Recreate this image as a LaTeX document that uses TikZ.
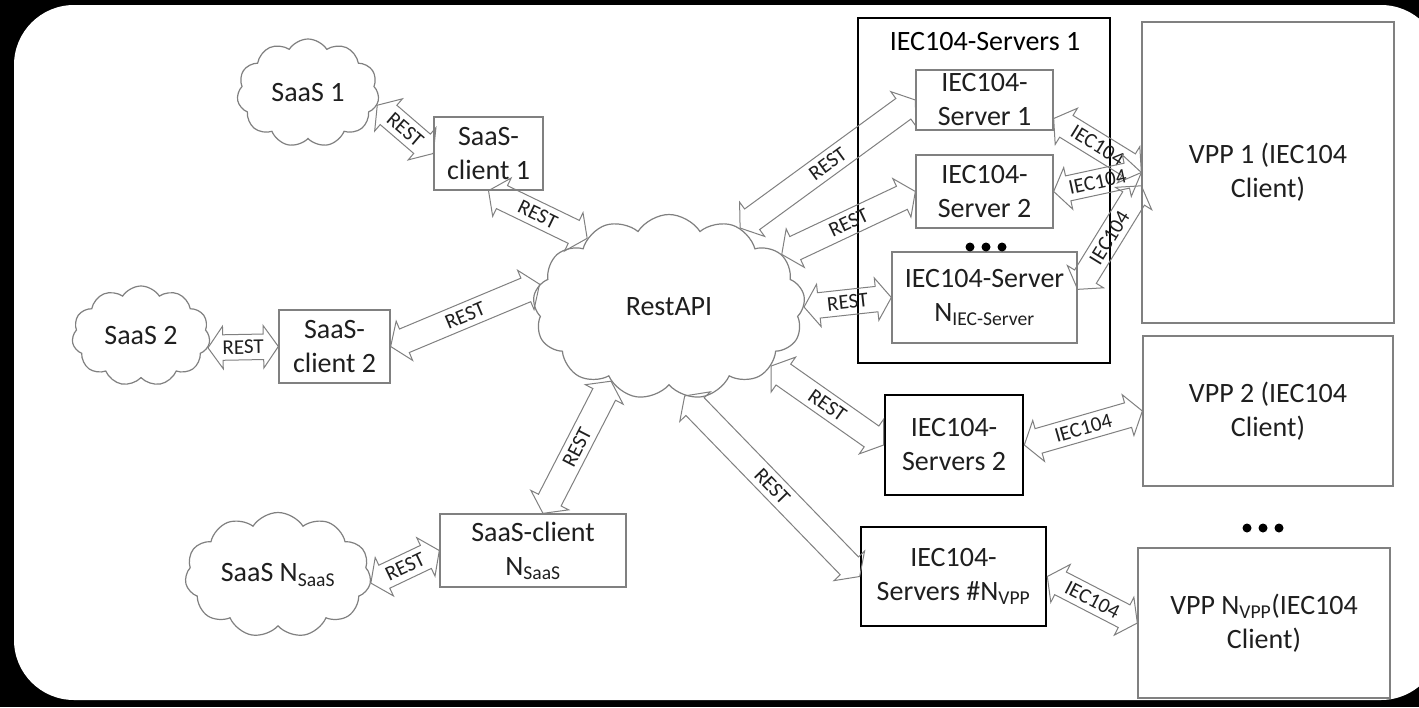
\documentclass[tikz,border=0pt]{standalone}
\usepackage{fontspec}
\setmainfont{Carlito}
\usetikzlibrary{calc, positioning, shapes.symbols, shapes.arrows}
\tikzstyle{box}=[draw=gray, line width=1.3pt, align=center, text=black!88, inner sep=0pt]
\tikzstyle{groupbox}=[draw=black, line width=2.6pt, align=center, text=black!88, inner sep=0pt]
\tikzstyle{saas}=[cloud, cloud puffs=11, cloud puff arc=115, cloud ignores aspect, draw=gray, line width=1.2pt, text=black!88, inner sep=0pt]
\tikzstyle{link}=[double arrow, draw=gray, line width=1pt, double arrow head extend=8.5pt, double arrow tip angle=110, inner xsep=1pt, inner ysep=5.5pt, text height=13.5pt, text depth=0pt, font=\fontsize{21}{21}\selectfont, text=black!88]

\newcommand\linkarrow[3]{%
  \path let \p1=(#1), \p2=(#2), \n1={atan2(\y2-\y1,\x2-\x1)}, \n2={veclen(\x2-\x1,\y2-\y1)} in
    node[link, rotate=\n1, minimum height=\n2] at ($(#1)!0.5!(#2)$) {#3};}

\begin{document}
\begin{tikzpicture}[x=1pt, y=-1pt, font=\fontsize{28}{34}\selectfont]
        \useasboundingbox (0,0) rectangle (1419,707);
        \clip (0,0) rectangle (1419,707);
        \fill[black] (0,0) rectangle (1419,707);
        \fill[white, rounded corners=60pt] (14,5) rectangle (1441,700);

        % SaaS side
        \node[saas, minimum width=142pt, minimum height=108pt] (saas1) at (308,93) {SaaS 1};
        \node[box, minimum width=109pt, minimum height=73pt] (client1) at (488.5,153.5) {SaaS-\\client 1};
        \node[saas, minimum width=138pt, minimum height=100pt] (saas2) at (141,336) {SaaS 2};
        \node[box, minimum width=111pt, minimum height=73pt] (client2) at (334.5,346.5) {SaaS-\\client 2};
        \node[saas, minimum width=186pt, minimum height=125pt] (saasn) at (278,575) {SaaS N\textsubscript{SaaS}};
        \node[box, minimum width=186pt, minimum height=73pt] (clientn) at (533,550.5) {SaaS-client\\N\textsubscript{SaaS}};

        \node[saas, cloud puffs=13, minimum width=272pt, minimum height=185pt] (restapi) at (669,307) {RestAPI};

        % servers
        \node[groupbox, minimum width=252pt, minimum height=345pt] (grp1) at (984,190.5) {};
        \node (grp1title) at (985,42) {IEC104-Servers 1};
        \node[box, minimum width=137pt, minimum height=60pt] (srv1) at (984.5,100) {IEC104-\\Server 1};
        \node[box, minimum width=137pt, minimum height=73pt] (srv2) at (984.5,191.5) {IEC104-\\Server 2};
        \node[box, minimum width=185pt, minimum height=91pt] (srvn) at (984.5,297.5) {IEC104-Server\\N\textsubscript{IEC-Server}};
        \node[groupbox, minimum width=138pt, minimum height=100pt] (grp2) at (954,445) {IEC104-\\Servers 2};
        \node[groupbox, minimum width=185pt, minimum height=99pt] (grpn) at (953.5,576.5) {IEC104-\\Servers \#N\textsubscript{VPP}};

        % VPPs
        \node[box, minimum width=252pt, minimum height=301pt] (vpp1) at (1268,172.5) {VPP 1 (IEC104\\Client)};
        \node[box, minimum width=250pt, minimum height=150pt] (vpp2) at (1268,411) {VPP 2 (IEC104\\Client)};
        \node[box, minimum width=252pt, minimum height=150pt] (vppn) at (1264,623) {VPP N\textsubscript{VPP}(IEC104\\Client)};

        \foreach \dx in {-16,0,16} {
            \fill (986+\dx,247) circle (4.5pt);
            \fill (1263+\dx,528) circle (4.5pt);
        }

        \linkarrow{saas1.-10}{client1.west}{REST}
        \linkarrow{client1.south}{restapi.140}{REST}
        \linkarrow{saas2.-10}{client2.west}{REST}
        \linkarrow{client2.east}{restapi.170}{REST}
        \linkarrow{saasn.-5}{clientn.west}{REST}
        \linkarrow{clientn.75}{restapi.232}{REST}
        \linkarrow{restapi.48}{srv1.west}{REST}
        \linkarrow{restapi.25}{srv2.west}{REST}
        \linkarrow{restapi.east}{srvn.west}{REST}
        \linkarrow{restapi.-30}{grp2.west}{REST}
        \linkarrow{restapi.-80}{grpn.west}{REST}
        \linkarrow{srv1.-15}{vpp1.west}{IEC104}
        \linkarrow{srv2.east}{vpp1.west}{IEC104}
        \linkarrow{srvn.5}{vpp1.186}{IEC104}
        \linkarrow{grp2.east}{vpp2.west}{IEC104}
        \linkarrow{grpn.east}{vppn.west}{IEC104}
\end{tikzpicture}
\end{document}
